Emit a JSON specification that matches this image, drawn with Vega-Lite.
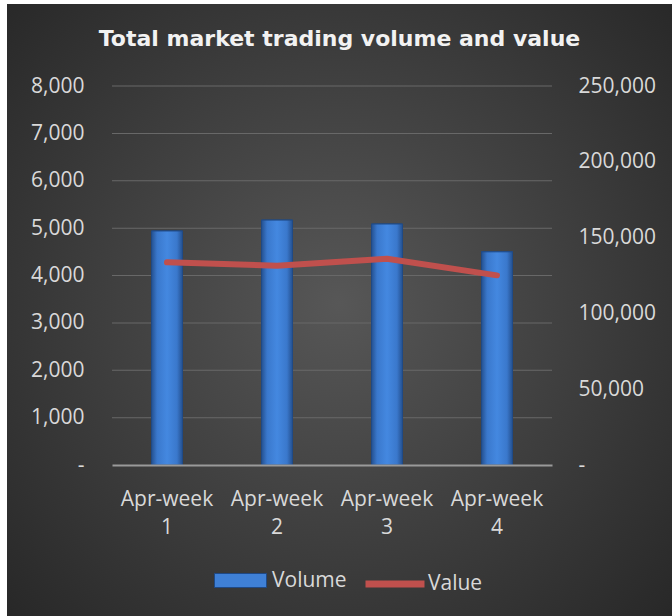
{
  "$schema": "https://vega.github.io/schema/vega-lite/v6.json",
  "width": 665,
  "height": 612,
  "autosize": {"type": "none"},
  "padding": {"left": 7, "top": 4, "right": 0, "bottom": 0},
  "background": "#ffffff",
  "title": {
    "text": "Total market trading volume and value",
    "orient": "top",
    "anchor": "middle",
    "frame": "group",
    "offset": -64,
    "baseline": "alphabetic",
    "font": "DejaVu Sans",
    "fontSize": 22,
    "fontWeight": "bold",
    "color": "#f2f2f2"
  },
  "config": {
    "view": {"stroke": null},
    "axis": {
      "labelFont": "Open Sans",
      "labelFontSize": 21,
      "labelColor": "#d9d9d9",
      "grid": false,
      "ticks": false
    },
    "axisX": {"labelLineHeight": 28}
  },
  "datasets": {
    "weekly": [
      {"week": "Apr-week 1", "volume": 4940, "value": 133700},
      {"week": "Apr-week 2", "volume": 5170, "value": 131500},
      {"week": "Apr-week 3", "volume": 5087, "value": 136100},
      {"week": "Apr-week 4", "volume": 4500, "value": 125100}
    ],
    "gridlines": [
      {"week": "Apr-week 1", "tick": 1000}, {"week": "Apr-week 2", "tick": 1000}, {"week": "Apr-week 3", "tick": 1000}, {"week": "Apr-week 4", "tick": 1000},
      {"week": "Apr-week 1", "tick": 2000}, {"week": "Apr-week 2", "tick": 2000}, {"week": "Apr-week 3", "tick": 2000}, {"week": "Apr-week 4", "tick": 2000},
      {"week": "Apr-week 1", "tick": 3000}, {"week": "Apr-week 2", "tick": 3000}, {"week": "Apr-week 3", "tick": 3000}, {"week": "Apr-week 4", "tick": 3000},
      {"week": "Apr-week 1", "tick": 4000}, {"week": "Apr-week 2", "tick": 4000}, {"week": "Apr-week 3", "tick": 4000}, {"week": "Apr-week 4", "tick": 4000},
      {"week": "Apr-week 1", "tick": 5000}, {"week": "Apr-week 2", "tick": 5000}, {"week": "Apr-week 3", "tick": 5000}, {"week": "Apr-week 4", "tick": 5000},
      {"week": "Apr-week 1", "tick": 6000}, {"week": "Apr-week 2", "tick": 6000}, {"week": "Apr-week 3", "tick": 6000}, {"week": "Apr-week 4", "tick": 6000},
      {"week": "Apr-week 1", "tick": 7000}, {"week": "Apr-week 2", "tick": 7000}, {"week": "Apr-week 3", "tick": 7000}, {"week": "Apr-week 4", "tick": 7000},
      {"week": "Apr-week 1", "tick": 8000}, {"week": "Apr-week 2", "tick": 8000}, {"week": "Apr-week 3", "tick": 8000}, {"week": "Apr-week 4", "tick": 8000}
    ]
  },
  "layer": [
    {
      "data": {"values": [{"panel": "background"}]},
      "mark": {
        "type": "rect",
        "fill": {
          "gradient": "radial",
          "x1": 0.5, "y1": 0.49, "r1": 0,
          "x2": 0.5, "y2": 0.49, "r2": 0.71,
          "stops": [
            {"offset": 0, "color": "#575757"},
            {"offset": 1, "color": "#262626"}
          ]
        }
      },
      "encoding": {}
    },
    {
      "data": {"name": "gridlines"},
      "mark": {"type": "tick", "color": "#686868", "size": 110, "thickness": 1, "opacity": 1},
      "encoding": {
        "x": {
          "field": "week", "type": "nominal", "sort": null,
          "scale": {"range": [105, 545], "paddingInner": 0, "paddingOuter": 0},
          "axis": {
            "orient": "bottom", "offset": -151, "title": null, "zindex": 1,
            "domainColor": "#9a9a9a", "domainWidth": 2,
            "labelExpr": "split(datum.label, ' ')",
            "labelPadding": 23, "labelLineHeight": 28, "labelAngle": 0
          }
        },
        "y": {"field": "tick", "type": "quantitative", "scale": {"domain": [0, 8000], "range": [461, 82]}, "axis": null}
      }
    },
    {
      "data": {"name": "weekly"},
      "mark": {"type": "bar", "width": 31, "stroke": "#1f4a86", "strokeWidth": 1},
      "encoding": {
        "x": {"field": "week", "type": "nominal", "sort": null},
        "y": {
          "field": "volume", "type": "quantitative",
          "scale": {"domain": [0, 8000], "range": [461, 82]},
          "axis": {
            "orient": "left", "offset": -105, "domain": false, "title": null, "zindex": 1,
            "values": [0, 1000, 2000, 3000, 4000, 5000, 6000, 7000, 8000],
            "labelExpr": "datum.value === 0 ? '-\u00a0\u00a0' : format(datum.value, ',')",
            "labelPadding": 28
          }
        },
        "fill": {
          "datum": "Volume",
          "scale": {"domain": ["Volume"], "range": ["#3f80d6"]},
          "legend": {
            "orient": "none", "legendX": 207, "legendY": 550,
            "title": null, "padding": 0,
            "symbolType": "M-1,-0.27H1V0.27H-1Z", "symbolSize": 2704,
            "symbolStrokeColor": "#1f4a86", "symbolStrokeWidth": 1,
            "labelOffset": 5,
            "labelFont": "Open Sans", "labelFontSize": 21, "labelColor": "#d9d9d9"
          }
        }
      }
    },
    {
      "data": {"name": "weekly"},
      "mark": {
        "type": "bar",
        "width": 31,
        "fill": {
          "gradient": "linear",
          "x1": 0, "y1": 0, "x2": 1, "y2": 0,
          "stops": [
            {"offset": 0, "color": "#24508f"},
            {"offset": 0.18, "color": "#3a78cc"},
            {"offset": 0.5, "color": "#4488e0"},
            {"offset": 0.82, "color": "#3a78cc"},
            {"offset": 1, "color": "#24508f"}
          ]
        },
        "stroke": "#1f4a86",
        "strokeWidth": 1
      },
      "encoding": {
        "x": {"field": "week", "type": "nominal", "sort": null},
        "y": {
          "field": "volume", "type": "quantitative",
          "scale": {"domain": [0, 8000], "range": [461, 82]},
          "axis": null
        }
      }
    },
    {
      "data": {"name": "weekly"},
      "mark": {"type": "line", "strokeWidth": 6, "strokeCap": "round", "strokeJoin": "round"},
      "encoding": {
        "x": {"field": "week", "type": "nominal", "sort": null},
        "y": {
          "field": "value", "type": "quantitative",
          "scale": {"domain": [0, 250000], "range": [461, 82]},
          "axis": {
            "orient": "right", "offset": -120, "domain": false, "title": null, "zindex": 1,
            "values": [0, 50000, 100000, 150000, 200000, 250000],
            "labelExpr": "datum.value === 0 ? '-' : format(datum.value, ',')",
            "labelPadding": 26
          }
        },
        "stroke": {
          "datum": "Value",
          "scale": {"domain": ["Value"], "range": ["#c0504d"]},
          "legend": {
            "orient": "none", "legendX": 355, "legendY": 547,
            "title": null, "padding": 0,
            "symbolType": "stroke", "symbolSize": 3481, "symbolStrokeWidth": 7,
            "labelOffset": 0,
            "labelFont": "Open Sans", "labelFontSize": 21, "labelColor": "#d9d9d9"
          }
        }
      }
    }
  ],
  "resolve": {
    "scale": {"y": "independent"},
    "axis": {"y": "independent"}
  }
}
